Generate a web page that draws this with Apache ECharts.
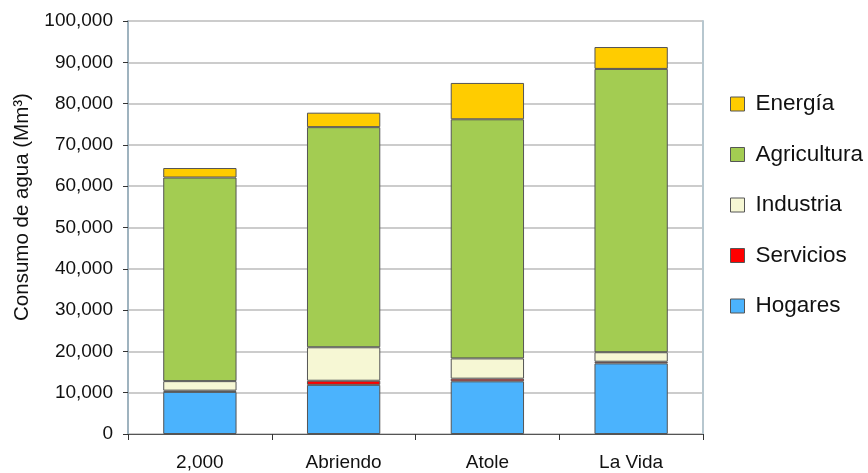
<!DOCTYPE html>
<html><head><meta charset="utf-8">
<script src="https://cdn.jsdelivr.net/npm/echarts@6/dist/echarts.min.js"></script>
<style>html,body{margin:0;padding:0;background:#fff}#c{width:868px;height:473px}</style>
</head><body><div id="c"></div>
<script>
const categories = ['2,000', 'Abriendo', 'Atole', 'La Vida'];
const hogares     = [10200, 11900, 12750, 17100];
const servicios   = [300, 1000, 650, 400];
const industria   = [2300, 8100, 4900, 2300];
const agricultura = [49300, 53300, 57900, 68600];
const energia     = [2300, 3500, 8800, 5300];
const yTicks = [0, 10000, 20000, 30000, 40000, 50000, 60000, 70000, 80000, 90000, 100000];
const yTitle = 'Consumo de agua (Mm³)';

const chart = echarts.init(document.getElementById('c'));
const font = 'Liberation Sans, Arial, sans-serif';
const border = {borderColor: '#555', borderWidth: 1};
function s(name, data, color) {
  return {name, type: 'bar', stack: 'a', data, barWidth: '51%',
    itemStyle: Object.assign({color}, border)};
}
chart.setOption({
  animation: false,
  textStyle: {fontFamily: font},
  grid: {left: 128, right: 165, top: 21, bottom: 39},
  graphic: [{
    type: 'text', x: 22, y: 207, rotation: Math.PI / 2,
    style: {text: yTitle, fontSize: 20.5, fill: '#111', fontFamily: font,
      align: 'center', verticalAlign: 'middle'}
  }],
  legend: {
    orient: 'vertical', left: 725, top: 87.5, itemGap: 27.5, itemWidth: 14, itemHeight: 14,
    icon: 'rect',
    data: ['Energía', 'Agricultura', 'Industria', 'Servicios', 'Hogares'],
    textStyle: {fontSize: 22.5, color: '#111', fontFamily: font, padding: [0, 0, 0, 6]},
    itemStyle: {borderColor: '#555', borderWidth: 1}
  },
  xAxis: {
    type: 'category', data: categories,
    axisLine: {lineStyle: {color: '#555', width: 1}},
    axisTick: {show: true, length: 6, lineStyle: {color: '#333'}},
    axisLabel: {fontSize: 19, color: '#111', margin: 19, fontFamily: font}
  },
  yAxis: [{
    type: 'value', min: 0, max: 100000, interval: 10000,
    axisLine: {show: true, lineStyle: {color: '#9fb3bf', width: 2}},
    axisTick: {show: true, length: 5, lineStyle: {color: '#333'}},
    axisLabel: {fontSize: 19, color: '#111', margin: 15, fontFamily: font,
      formatter: v => yTicks.includes(v) ? v.toLocaleString('en-US') : ''},
    splitLine: {lineStyle: {color: '#cccccc', width: 2}}
  }, {
    type: 'value', min: 0, max: 100000, interval: 10000, position: 'right',
    axisLine: {show: true, lineStyle: {color: '#b7c7cf', width: 2}},
    axisTick: {show: false}, axisLabel: {show: false}, splitLine: {show: false}
  }],
  series: [
    s('Hogares', hogares, '#4bb3fd'),
    s('Servicios', servicios, '#ff0000'),
    s('Industria', industria, '#f6f7d4'),
    s('Agricultura', agricultura, '#a3cc52'),
    s('Energía', energia, '#ffcc00')
  ]
});
</script></body></html>
